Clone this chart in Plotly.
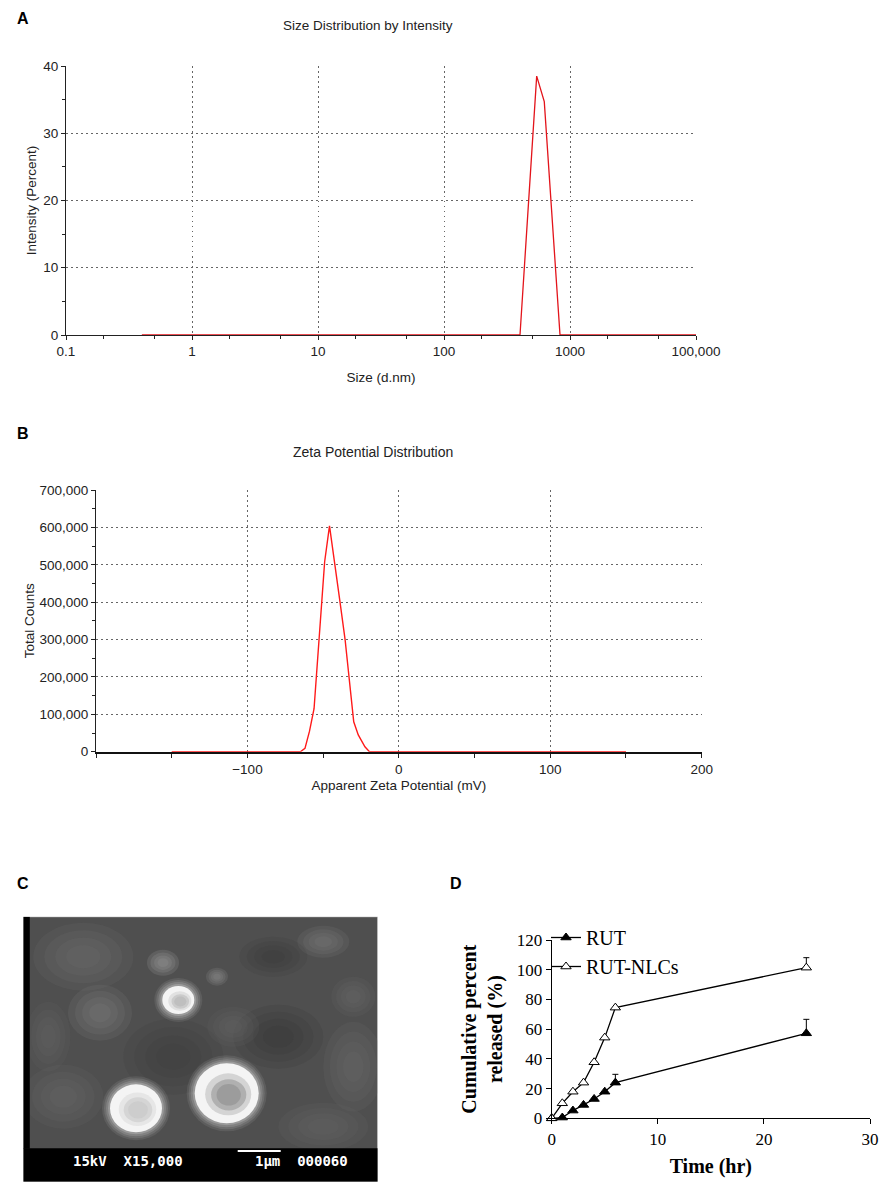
import plotly.graph_objects as go

# ---------------- data ----------------
# Panel A: size distribution by intensity
size_nm = [0.4, 401, 544, 625, 833, 10000]
intensity_pct = [0, 0, 38.5, 34.7, 0, 0]
size_tickvals = [0.1, 1, 10, 100, 1000, 10000]
size_ticktext = ["0.1", "1", "10", "100", "1000", "100,000"]

# Panel B: zeta potential distribution
zeta_mv = [-150, -65, -62, -59, -56, -52.5, -49, -45.8, -42.5, -39, -35.5,
           -32.5, -29.8, -26.8, -22.4, -19.4, 150]
zeta_counts = [0, 0, 9000, 55000, 115000, 320000, 508000, 604000, 512000,
               405000, 300000, 180000, 80000, 45000, 13000, 0, 0]
zeta_tickvals = [-100, 0, 100, 200]
zeta_ticktext = ["\u2212100", "0", "100", "200"]
count_tickvals = [0, 100000, 200000, 300000, 400000, 500000, 600000, 700000]
count_ticktext = ["0", "100,000", "200,000", "300,000", "400,000", "500,000",
                  "600,000", "700,000"]

# Panel D: cumulative release
time_hr = [0, 1, 2, 3, 4, 5, 6, 24]
rut = [0, 0.5, 5.2, 9.0, 13.0, 17.9, 24.0, 57.2]
rut_err = [0, 0, 0, 0, 0, 0, 5.6, 9.4]
rut_nlc = [0, 10.1, 17.9, 24.0, 37.7, 54.3, 74.5, 101.4]
rut_nlc_err = [0, 0, 0, 0, 0, 0, 0, 6.7]

W, H = 888, 1191


def px(x):
    return x / W


def py(y):
    return 1 - y / H


SANS = "Liberation Sans, Arial, sans-serif"
SERIF = "Liberation Serif, Times New Roman, serif"
GRID = "#666666"
DOT = "1.5px,3.5px"

fig = go.Figure()

# ---- Panel A ----
fig.add_trace(go.Scatter(x=size_nm, y=intensity_pct, mode="lines",
                         line=dict(color="#e3141b", width=1.3),
                         showlegend=False, cliponaxis=False,
                         xaxis="x", yaxis="y"))
# ---- Panel B ----
fig.add_trace(go.Scatter(x=zeta_mv, y=zeta_counts, mode="lines",
                         line=dict(color="#ff1a1a", width=1.4),
                         showlegend=False, cliponaxis=False,
                         xaxis="x2", yaxis="y2"))
# ---- Panel D ----
fig.add_trace(go.Scatter(x=time_hr, y=rut, mode="lines+markers", name="RUT",
                         line=dict(color="black", width=1.3),
                         marker=dict(symbol="triangle-up", size=9, color="black",
                                     line=dict(color="black", width=1)),
                         error_y=dict(type="data", symmetric=False, array=rut_err,
                                      arrayminus=[0] * len(rut_err), color="black",
                                      thickness=1, width=3),
                         cliponaxis=False, xaxis="x3", yaxis="y3"))
fig.add_trace(go.Scatter(x=time_hr, y=rut_nlc, mode="lines+markers", name="RUT-NLCs",
                         line=dict(color="black", width=1.3),
                         marker=dict(symbol="triangle-up", size=9, color="white",
                                     line=dict(color="black", width=1)),
                         error_y=dict(type="data", symmetric=False, array=rut_nlc_err,
                                      arrayminus=[0] * len(rut_nlc_err), color="black",
                                      thickness=1, width=3),
                         cliponaxis=False, xaxis="x3", yaxis="y3"))
# ---- Panel C canvas trace (invisible, only anchors the micrograph axes) ----
fig.add_trace(go.Scatter(x=[0, 354.4], y=[0, 265], mode="markers",
                         marker=dict(size=1, opacity=0), hoverinfo="skip",
                         showlegend=False, xaxis="x4", yaxis="y4"))

axis_common_ab = dict(showline=True, linecolor="#222", linewidth=1.2,
                      ticks="outside", ticklen=4, tickcolor="#222",
                      tickfont=dict(family=SANS, size=13.5, color="#222"),
                      showgrid=True, gridcolor=GRID, griddash=DOT, gridwidth=1.1,
                      zeroline=False, mirror=False, automargin=False)

fig.update_layout(
    width=W, height=H,
    margin=dict(l=0, r=0, t=0, b=0, pad=0, autoexpand=False),
    paper_bgcolor="white", plot_bgcolor="white",
    xaxis=dict(axis_common_ab, type="log", range=[-1, 4], domain=[px(66), px(696)],
               tickvals=size_tickvals, ticktext=size_ticktext,
               minor=dict(ticks="outside", ticklen=3, tickcolor="#222", showgrid=False),
               title=dict(text="Size (d.nm)", font=dict(family=SANS, size=13.5, color="#222"),
                          standoff=14),
               anchor="y"),
    yaxis=dict(axis_common_ab, range=[0, 40], domain=[py(335), py(66)],
               tickvals=[0, 10, 20, 30, 40],
               minor=dict(ticks="outside", ticklen=3, tickcolor="#222", dtick=5,
                          showgrid=False),
               title=dict(text="Intensity (Percent)",
                          font=dict(family=SANS, size=13.5, color="#222"), standoff=3),
               anchor="x"),
    xaxis2=dict(axis_common_ab, range=[-200, 200], domain=[px(96), px(701.7)],
                tickvals=zeta_tickvals, ticktext=zeta_ticktext,
                linewidth=2, linecolor="#111",
                minor=dict(ticks="outside", ticklen=4, tickcolor="#222", dtick=50,
                           tick0=0, showgrid=False),
                title=dict(text="Apparent Zeta Potential (mV)",
                           font=dict(family=SANS, size=13.5, color="#222"), standoff=5),
                anchor="y2"),
    yaxis2=dict(axis_common_ab, range=[0, 700000], domain=[py(751.7), py(490)],
                tickvals=count_tickvals, ticktext=count_ticktext,
                minor=dict(ticks="outside", ticklen=3, tickcolor="#222", dtick=50000,
                           tick0=0, showgrid=False),
                title=dict(text="Total Counts",
                           font=dict(family=SANS, size=13.5, color="#222"), standoff=1),
                anchor="x2"),
    xaxis3=dict(range=[0, 30], domain=[px(551.7), px(870)], dtick=10,
                showline=True, linecolor="black", linewidth=1,
                ticks="outside", ticklen=5, tickcolor="black",
                tickfont=dict(family=SERIF, size=17, color="black"),
                showgrid=False, zeroline=False, automargin=False,
                title=dict(text="<b>Time (hr)</b>",
                           font=dict(family=SERIF, size=20, color="black"), standoff=11),
                anchor="y3"),
    yaxis3=dict(range=[0, 120], domain=[py(1118.3), py(940)], dtick=20,
                showline=True, linecolor="black", linewidth=1,
                ticks="outside", ticklen=5, tickcolor="black",
                tickfont=dict(family=SERIF, size=17, color="black"),
                showgrid=False, zeroline=False, automargin=False,
                title=dict(text="<b>Cumulative percent<br>released (%)</b>",
                           font=dict(family=SERIF, size=20, color="black"), standoff=8),
                anchor="x3"),
    xaxis4=dict(range=[0, 354.4], domain=[px(23.3), px(377.7)], visible=False,
                anchor="y4"),
    yaxis4=dict(range=[265, 0], domain=[py(1181.7), py(916.7)], visible=False,
                anchor="x4"),
    legend=dict(x=px(546), y=py(918), xanchor="left", yanchor="top",
                font=dict(family=SERIF, size=20, color="black"),
                bgcolor="rgba(0,0,0,0)", itemwidth=30, tracegroupgap=0,
                traceorder="normal"),
)

# ---------- annotations: titles & panel labels ----------
labels = [("A", 23, 19), ("B", 23, 434), ("C", 23, 883), ("D", 456, 883)]
for t, x, y in labels:
    fig.add_annotation(text=f"<b>{t}</b>", x=px(x), y=py(y), xref="paper", yref="paper",
                       showarrow=False, font=dict(family=SANS, size=16, color="black"),
                       xanchor="center", yanchor="middle")

fig.add_annotation(text="Size Distribution by Intensity", x=px(368), y=py(26),
                   xref="paper", yref="paper", showarrow=False,
                   xanchor="center", yanchor="middle",
                   font=dict(family=SANS, size=13.5, color="#222"))
fig.add_annotation(text="Zeta Potential Distribution", x=px(373), y=py(452),
                   xref="paper", yref="paper", showarrow=False,
                   xanchor="center", yanchor="middle",
                   font=dict(family=SANS, size=14, color="#222"))

# ---------- Panel C: SEM micrograph rendered with shapes ----------
shapes = []


def rect(x0, y0, x1, y1, fill, line="rgba(0,0,0,0)", lw=0, opacity=1):
    shapes.append(dict(type="rect", xref="x4", yref="y4", x0=x0, y0=y0, x1=x1, y1=y1,
                       fillcolor=fill, line=dict(color=line, width=lw), opacity=opacity,
                       layer="above"))


def ell(cx, cy, rx, ry, fill, opacity=1):
    shapes.append(dict(type="circle", xref="x4", yref="y4", x0=cx - rx, y0=cy - ry,
                       x1=cx + rx, y1=cy + ry, fillcolor=fill,
                       line=dict(color="rgba(0,0,0,0)", width=0), opacity=opacity,
                       layer="above"))


def soft(cx, cy, rx, ry, fill, opacity):
    # stacked translucent ellipses give a soft-edged patch
    for k in (1.0, 0.78, 0.56, 0.34):
        ell(cx, cy, rx * k, ry * k, fill, opacity)


rect(0, 0, 354.4, 265, "#4f4f4f", line="#c8c8c8", lw=1)
# background mottling
for cx, cy, rx, ry, col, op in [
        (60, 40, 50, 34, "#7a7a7a", 0.14), (76.7, 96, 32, 28, "#808080", 0.18),
        (139.7, 46, 16, 13, "#a0a0a0", 0.2), (193.7, 60, 11, 9, "#909090", 0.2),
        (300, 25, 26, 16, "#858585", 0.16), (330, 150, 30, 45, "#747474", 0.15),
        (255, 120, 45, 32, "#333333", 0.16), (150, 140, 50, 38, "#363636", 0.14),
        (40, 180, 40, 32, "#707070", 0.14), (300, 210, 45, 24, "#6c6c6c", 0.15),
        (250, 40, 34, 20, "#383838", 0.15), (210, 110, 26, 20, "#6a6a6a", 0.14),
        (25, 120, 22, 35, "#6a6a6a", 0.14), (330, 80, 22, 20, "#6e6e6e", 0.14)]:
    soft(cx, cy, rx, ry, col, op)
# particles: soft halo, bright rim, greyer core
for cx, cy, rx, ry, inner in [(155, 83.3, 16, 14, "#bcbcbc"),
                               (112.7, 191.6, 26, 24, "#cacaca"),
                               (203.4, 176.6, 32, 30, "#979797")]:
    for grow, op in ((8, 0.12), (6, 0.16), (4, 0.22), (2, 0.35)):
        ell(cx, cy, rx + grow, ry + grow, "#c8c8c8", op)
    ell(cx, cy, rx, ry, "#f4f4f4", 1)
    ell(cx + 1.5, cy + 1, rx * 0.72, ry * 0.7, inner, 0.35)
    ell(cx + 2, cy + 1.5, rx * 0.55, ry * 0.52, inner, 0.6)
    ell(cx + 2, cy + 1.5, rx * 0.38, ry * 0.36, inner, 0.8)
rect(0, 0, 6.5, 232, "black")
rect(0, 231.5, 354.4, 265, "black")
shapes.append(dict(type="line", xref="x4", yref="y4", x0=214.4, y0=234.4, x1=257.4,
                   y1=234.4, line=dict(color="white", width=2), layer="above"))
fig.update_layout(shapes=shapes)

MONO = "DejaVu Sans Mono, Liberation Mono, monospace"
fig.add_annotation(text="<b>15kV  X15,000</b>", x=104.2, y=244.5, xref="x4", yref="y4",
                   showarrow=False, font=dict(family=MONO, size=14, color="white"))
fig.add_annotation(text="<b>1\u03bcm  000060</b>", x=278.2, y=244.5, xref="x4", yref="y4",
                   showarrow=False, font=dict(family=MONO, size=14, color="white"))

fig.write_html("out.html",
               config={"displayModeBar": False},
               post_script="document.body.style.margin='0';"
                           "document.body.style.overflow='hidden';")
